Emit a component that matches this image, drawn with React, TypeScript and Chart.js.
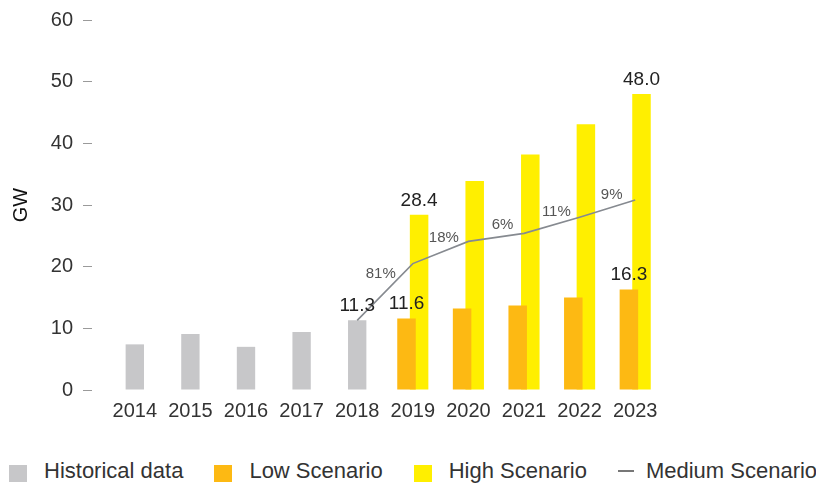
import React, { useEffect, useRef } from "react";
import { Chart, registerables } from "chart.js";

Chart.register(...registerables);

const years = ["2014", "2015", "2016", "2017", "2018", "2019", "2020", "2021", "2022", "2023"];
const historical = [7.4, 9.1, 7.0, 9.4, 11.3, null, null, null, null, null];
const lowScenario = [null, null, null, null, null, 11.6, 13.2, 13.7, 15.0, 16.3];
const highScenario = [null, null, null, null, null, 28.4, 33.9, 38.2, 43.1, 48.0];
const mediumScenario = [null, null, null, null, 11.3, 20.5, 24.1, 25.4, 28.0, 30.8];
const growthLabels = ["81%", "18%", "6%", "11%", "9%"];
const labeledYears = ["2018", "2019", "2023"];
const yTicks = [0, 10, 20, 30, 40, 50, 60];

const FAMILY = '"Liberation Sans", Arial, Helvetica, sans-serif';
const GRAY = "#c7c7c9";
const ORANGE = "#fdb913";
const YELLOW = "#ffef00";
const LINE = "#868a90";

const labelPlugin = {
  id: "valueLabels",
  afterDatasetsDraw(chart: any) {
    const ctx = chart.ctx;
    ctx.save();
    ctx.font = `19px ${FAMILY}`;
    ctx.fillStyle = "#222";
    ctx.textAlign = "center";
    ctx.textBaseline = "alphabetic";
    [0, 1, 2].forEach((di) => {
      const meta = chart.getDatasetMeta(di);
      const data = chart.data.datasets[di].data;
      meta.data.forEach((el: any, i: number) => {
        const v = data[i];
        if (v == null || !labeledYears.includes(years[i])) return;
        ctx.fillText(Number(v).toFixed(1), el.x, el.y - 9);
      });
    });
    const lm = chart.getDatasetMeta(3);
    const pts = lm.data.filter((_p: any, i: number) => mediumScenario[i] != null);
    ctx.font = `15px ${FAMILY}`;
    ctx.fillStyle = "#555";
    ctx.textBaseline = "middle";
    for (let k = 0; k < pts.length - 1; k++) {
      const a = pts[k];
      const b = pts[k + 1];
      const mx = (a.x + b.x) / 2;
      const my = (a.y + b.y) / 2;
      const slope = Math.abs((b.y - a.y) / (b.x - a.x));
      ctx.fillText(growthLabels[k], mx + 8 - 12 * slope, my - 12 - 6 * slope);
    }
    ctx.restore();
  },
};

export default function App() {
  const ref = useRef<HTMLCanvasElement | null>(null);

  useEffect(() => {
    if (!ref.current) return;
    const chart = new Chart(ref.current, {
      type: "bar",
      data: {
        labels: years,
        datasets: [
          {
            type: "bar",
            label: "Historical data",
            data: historical,
            backgroundColor: GRAY,
            grouped: false,
            categoryPercentage: 1,
            barPercentage: 0.33,
          } as any,
          {
            type: "bar",
            label: "Low Scenario",
            data: lowScenario,
            backgroundColor: ORANGE,
            categoryPercentage: 0.453,
            barPercentage: 1.47,
          },
          {
            type: "bar",
            label: "High Scenario",
            data: highScenario,
            backgroundColor: YELLOW,
            categoryPercentage: 0.453,
            barPercentage: 1.47,
          },
          {
            type: "line",
            label: "Medium Scenario",
            data: mediumScenario,
            borderColor: LINE,
            borderWidth: 1.6,
            pointRadius: 0,
            tension: 0,
            order: -1,
          } as any,
        ],
      },
      options: {
        animation: false,
        responsive: false,
        devicePixelRatio: 1,
        layout: { padding: { top: 19, right: 161, bottom: 8, left: 0 } },
        plugins: {
          legend: { display: false },
          tooltip: { enabled: false },
        },
        scales: {
          x: {
            grid: { display: false, drawTicks: false },
            border: { display: false },
            ticks: { padding: 9, color: "#333", font: { size: 20, family: FAMILY } },
          },
          y: {
            min: 0,
            max: 60,
            afterBuildTicks: (s: any) => {
              s.ticks = yTicks.map((v) => ({ value: v }));
            },
            afterFit: (s: any) => {
              s.width = 107;
            },
            border: { display: false },
            grid: {
              drawOnChartArea: false,
              drawTicks: true,
              tickLength: 24,
              tickColor: "#9a9a9a",
              tickWidth: 1,
              tickBorderDash: [9, 100],
            } as any,
            ticks: { padding: 10, color: "#333", font: { size: 20, family: FAMILY, lineHeight: 1 } },
            title: {
              display: true,
              text: "GW",
              color: "#111",
              font: { size: 20, family: FAMILY },
              padding: { top: 9, bottom: 0 },
            },
          },
        },
      },
      plugins: [labelPlugin],
    });
    return () => chart.destroy();
  }, []);

  const box = (color: string) => (
    <span
      style={{
        display: "inline-block",
        width: 18,
        height: 17,
        background: color,
        marginRight: 17,
        transform: "translateY(3px)",
      }}
    />
  );

  const itemStyle: React.CSSProperties = { display: "flex", alignItems: "center", marginRight: 31 };

  return (
    <div style={{ position: "relative", width: 824, height: 483, margin: "-8px 0 0 -8px", background: "#fff" }}>
      <canvas ref={ref} width={824} height={440} style={{ position: "absolute", left: 0, top: 0, width: 824, height: 440 }} />
      <div
        style={{
          position: "absolute",
          left: 9,
          top: 458,
          display: "flex",
          alignItems: "center",
          fontFamily: FAMILY,
          fontSize: 22,
          color: "#333",
          whiteSpace: "nowrap",
          lineHeight: "25px",
        }}
      >
        <div style={itemStyle}>
          {box(GRAY)}
          <span>Historical data</span>
        </div>
        <div style={itemStyle}>
          {box(ORANGE)}
          <span>Low Scenario</span>
        </div>
        <div style={itemStyle}>
          {box(YELLOW)}
          <span>High Scenario</span>
        </div>
        <div style={{ display: "flex", alignItems: "center" }}>
          <span style={{ display: "inline-block", width: 16, height: 2, background: "#777", marginRight: 12 }} />
          <span>Medium Scenario</span>
        </div>
      </div>
    </div>
  );
}
